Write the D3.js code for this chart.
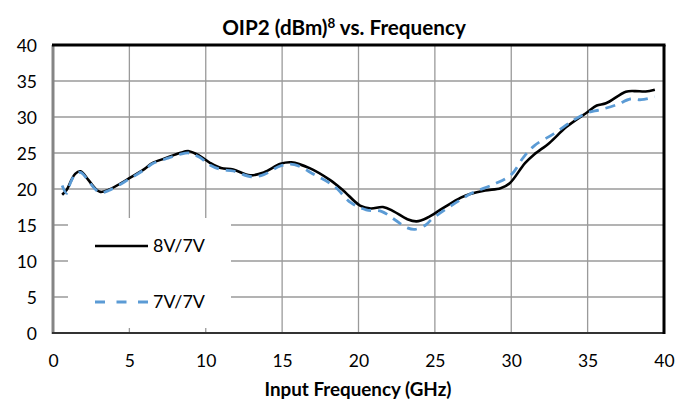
<!DOCTYPE html>
<html><head><meta charset="utf-8">
<script src="https://cdn.jsdelivr.net/npm/d3@7"></script>
<style>html,body{margin:0;padding:0;background:#fff;}svg{display:block;}</style>
</head><body>
<svg id="chart" width="690" height="404"></svg>
<script>
// ---- data ----
const seriesNames = ["8V/7V", "7V/7V"];
const freq8V = [0.6,0.9,1.15,1.45,1.8,2.3,2.75,3.1,3.65,5.0,6.0,6.5,7.4,8.3,8.9,9.6,10.3,11.0,11.8,12.9,13.8,14.9,15.6,16.8,18.1,19.0,20.1,20.8,21.6,22.3,23.2,23.8,24.5,25.5,26.7,27.3,28.3,29.3,29.9,30.9,31.5,32.5,33.6,35.0,35.6,36.2,37.5,38.1,38.8,39.4];
const oip8V  = [19.2,19.9,21.0,22.1,22.45,21.3,20.1,19.6,19.9,21.5,22.8,23.6,24.3,25.0,25.25,24.6,23.6,22.9,22.7,21.9,22.3,23.5,23.7,22.9,21.3,19.8,17.7,17.3,17.5,16.9,15.8,15.5,16.0,17.3,18.8,19.3,19.8,20.1,20.8,23.6,24.8,26.4,28.6,30.7,31.6,31.9,33.5,33.6,33.55,33.8];
const freq7V = [0.6,0.9,1.15,1.45,1.8,2.3,2.75,3.1,3.65,5.0,6.0,6.5,7.4,8.3,8.9,9.6,10.3,11.0,11.8,13.0,13.8,14.9,15.8,17.1,18.4,19.5,20.5,21.5,22.4,23.2,23.7,24.4,24.8,26.3,27.4,28.9,30.0,30.8,31.5,32.8,34.1,35.0,35.8,36.9,37.8,38.5,39.4];
const oip7V  = [20.5,19.4,20.9,22.0,22.3,21.2,20.0,19.5,19.8,21.4,22.7,23.5,24.2,24.8,25.0,24.4,23.3,22.7,22.5,21.7,22.0,23.2,23.4,22.0,20.4,18.1,17.1,16.9,15.7,14.6,14.4,15.0,15.8,18.0,19.4,20.7,22.0,24.4,26.0,27.7,29.6,30.6,31.0,31.7,32.5,32.4,32.8];
const xTicks = [0,5,10,15,20,25,30,35,40];
const yTicks = [0,5,10,15,20,25,30,35,40];

// ---- layout ----
const svg = d3.select("#chart");
const L = 53, R = 664, T = 45, B = 333;
const x = d3.scaleLinear().domain([0,40]).range([L,R]);
const y = d3.scaleLinear().domain([0,40]).range([B,T]);
const FONT = "Lato, 'Open Sans', sans-serif";

function fit(sel, w){
  const n = sel.node(); const cur = parseFloat(sel.attr("font-size"));
  const len = n.getComputedTextLength();
  sel.attr("font-size", (cur*w/len).toFixed(2));
}

// gridlines
svg.append("g").selectAll("line").data(yTicks.filter(d=>d>0&&d<40)).join("line")
  .attr("x1",L).attr("x2",R).attr("y1",d=>y(d)).attr("y2",d=>y(d))
  .attr("stroke","#9a9a9a").attr("stroke-width",1.3);
svg.append("g").selectAll("line").data(xTicks.filter(d=>d>0&&d<40)).join("line")
  .attr("y1",T).attr("y2",B).attr("x1",d=>x(d)).attr("x2",d=>x(d))
  .attr("stroke","#9a9a9a").attr("stroke-width",1.3);

// legend background (covers gridlines)
svg.append("rect").attr("x",68).attr("y",218).attr("width",163).attr("height",110).attr("fill","#fff");

// lines
const line = d3.line().x(d=>x(d[0])).y(d=>y(d[1])).curve(d3.curveCatmullRom.alpha(0.5));
svg.append("path").datum(d3.zip(freq8V, oip8V)).attr("d",line)
  .attr("fill","none").attr("stroke","#000").attr("stroke-width",2.6).attr("stroke-linejoin","round");
svg.append("path").datum(d3.zip(freq7V, oip7V)).attr("d",line)
  .attr("fill","none").attr("stroke","#5b9bd5").attr("stroke-width",2.8).attr("stroke-dasharray","10,7");

// frame
svg.append("line").attr("x1",L).attr("x2",L).attr("y1",T).attr("y2",B+1).attr("stroke","#858585").attr("stroke-width",3);
svg.append("line").attr("x1",L-1).attr("x2",R+1).attr("y1",B).attr("y2",B).attr("stroke","#333").attr("stroke-width",2);
svg.append("line").attr("x1",L-1).attr("x2",R+1.5).attr("y1",T).attr("y2",T).attr("stroke","#000").attr("stroke-width",3);
svg.append("line").attr("x1",R).attr("x2",R).attr("y1",T).attr("y2",B+1).attr("stroke","#000").attr("stroke-width",3);

// axes (labels only)
const xAxis = d3.axisBottom(x).tickValues(xTicks).tickSize(0).tickPadding(0);
const gx = svg.append("g").attr("transform",`translate(0,${B})`).call(xAxis);
gx.select(".domain").remove();
gx.selectAll("text").attr("font-family",FONT).attr("font-size",17.5).attr("fill","#000")
  .attr("dy",null).attr("y",33.5);
const yAxis = d3.axisLeft(y).tickValues(yTicks).tickSize(0).tickPadding(0);
const gy = svg.append("g").attr("transform",`translate(37,0)`).call(yAxis);
gy.select(".domain").remove();
gy.selectAll("text").attr("font-family",FONT).attr("font-size",17.5).attr("fill","#000").attr("dy","0.35em");

// title
const title = svg.append("text").attr("x",344).attr("y",34.5).attr("text-anchor","middle")
  .attr("font-family",FONT).attr("font-weight","bold").attr("font-size",18).attr("fill","#000");
title.append("tspan").text("OIP2 (dBm)");
title.append("tspan").text("8").attr("font-size",12).attr("dy",-7);
title.append("tspan").text(" vs. Frequency").attr("dy",7);
fit(title, 244);
title.select("tspan:nth-child(2)").attr("font-size", parseFloat(title.attr("font-size"))*0.65);

// x-axis title
const xt = svg.append("text").attr("x",358).attr("y",396).attr("text-anchor","middle")
  .attr("font-family",FONT).attr("font-weight","bold").attr("font-size",17).attr("fill","#000")
  .text("Input Frequency (GHz)");
fit(xt, 187);

// legend entries
const legY = [246, 302];
svg.append("line").attr("x1",95).attr("x2",148).attr("y1",legY[0]).attr("y2",legY[0]).attr("stroke","#000").attr("stroke-width",2.6);
svg.append("line").attr("x1",95).attr("x2",148).attr("y1",legY[1]).attr("y2",legY[1]).attr("stroke","#5b9bd5").attr("stroke-width",2.8).attr("stroke-dasharray","10,11.5");
seriesNames.forEach((n,i)=>{
  const t = svg.append("text").attr("x",153).attr("y",legY[i]).attr("dy","0.35em")
    .attr("font-family",FONT).attr("font-size",17).attr("fill","#000").text(n);
  fit(t, 52);
});
</script>
</body></html>
